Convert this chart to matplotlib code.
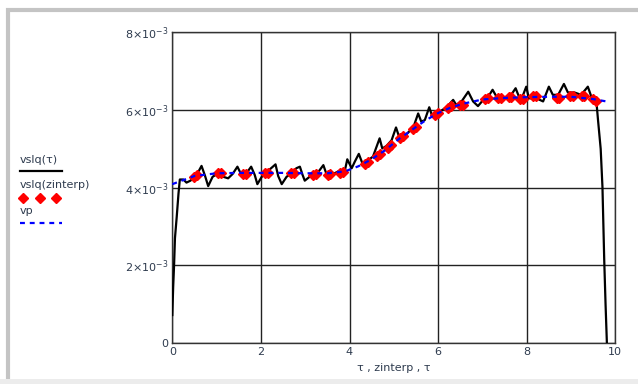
import numpy as np
import matplotlib
matplotlib.use("Agg")
import matplotlib.pyplot as plt
from matplotlib.lines import Line2D
from matplotlib.patches import Rectangle

# vslq(tau): measured signal (values in units of 1e-3)
tau = [0.0, 0.02, 0.04, 0.06, 0.10, 0.14, 0.17, 0.25, 0.32, 0.41, 0.55, 0.66, 0.74, 0.81,
       0.91, 1.04, 1.15, 1.26, 1.36, 1.47, 1.56, 1.66, 1.78, 1.86, 1.92, 2.02, 2.11, 2.20,
       2.33, 2.39, 2.47, 2.58, 2.69, 2.80, 2.88, 2.94, 2.99, 3.10, 3.26, 3.41, 3.48, 3.63,
       3.78, 3.89, 3.95, 4.05, 4.12, 4.21, 4.29, 4.38, 4.53, 4.68, 4.74, 4.83, 4.95, 5.05,
       5.12, 5.29, 5.44, 5.55, 5.62, 5.70, 5.80, 5.87, 6.04, 6.19, 6.34, 6.41, 6.53, 6.68,
       6.79, 6.90, 7.02, 7.13, 7.23, 7.32, 7.47, 7.62, 7.75, 7.84, 7.92, 7.99, 8.05, 8.22,
       8.37, 8.50, 8.59, 8.71, 8.84, 8.93, 9.08, 9.23, 9.38, 9.46, 9.57, 9.61, 9.67, 9.71,
       9.75, 9.78, 9.81]
vslq = [0.72, 1.45, 2.00, 2.70, 3.25, 3.85, 4.21, 4.21, 4.13, 4.18, 4.33, 4.56, 4.30, 4.04,
        4.28, 4.37, 4.28, 4.24, 4.35, 4.54, 4.33, 4.35, 4.54, 4.33, 4.09, 4.28, 4.41, 4.47,
        4.60, 4.30, 4.09, 4.28, 4.37, 4.50, 4.54, 4.33, 4.18, 4.28, 4.35, 4.58, 4.35, 4.35,
        4.44, 4.41, 4.73, 4.50, 4.67, 4.87, 4.63, 4.67, 4.80, 5.27, 5.01, 5.07, 5.22, 5.55,
        5.31, 5.38, 5.55, 5.91, 5.70, 5.74, 6.07, 5.83, 5.96, 6.07, 6.26, 6.13, 6.22, 6.47,
        6.22, 6.10, 6.26, 6.34, 6.52, 6.34, 6.33, 6.34, 6.56, 6.30, 6.39, 6.60, 6.30, 6.30,
        6.22, 6.60, 6.39, 6.39, 6.67, 6.45, 6.45, 6.39, 6.60, 6.34, 6.26, 5.74, 5.00, 4.02,
        2.14, 1.00, 0.0]

# vslq(zinterp): interpolation points
zinterp = [0.48, 0.55, 1.03, 1.10, 1.60, 1.67, 2.10, 2.16, 2.67, 2.74, 3.18, 3.25, 3.51, 3.57,
           3.79, 3.85, 4.34, 4.41, 4.62, 4.68, 4.88, 4.94, 5.14, 5.20, 5.44, 5.50, 5.93, 5.99,
           6.23, 6.29, 6.50, 6.56, 7.06, 7.12, 7.36, 7.42, 7.59, 7.65, 7.85, 7.91, 8.15, 8.21,
           8.68, 8.74, 8.98, 9.04, 9.24, 9.30, 9.50, 9.56]
vslq_z = [4.28, 4.32, 4.38, 4.39, 4.34, 4.34, 4.39, 4.39, 4.37, 4.37, 4.32, 4.34, 4.33, 4.34,
          4.38, 4.40, 4.60, 4.66, 4.81, 4.86, 5.03, 5.09, 5.28, 5.34, 5.50, 5.56, 5.87, 5.91,
          6.05, 6.09, 6.12, 6.14, 6.29, 6.30, 6.30, 6.30, 6.33, 6.33, 6.28, 6.29, 6.35, 6.36,
          6.32, 6.32, 6.36, 6.36, 6.36, 6.35, 6.28, 6.24]

# vp: fitted curve
tau_p = [0.0, 0.5, 1.0, 1.5, 2.0, 2.5, 3.0, 3.5, 3.9, 4.2, 4.5, 4.8, 5.1, 5.4, 5.7, 6.0,
         6.3, 6.6, 7.0, 7.5, 8.0, 8.5, 9.0, 9.5, 9.8]
vp = [4.09, 4.30, 4.37, 4.38, 4.38, 4.38, 4.37, 4.37, 4.42, 4.55, 4.73, 4.96, 5.24, 5.48,
      5.72, 5.92, 6.07, 6.17, 6.27, 6.31, 6.33, 6.34, 6.34, 6.28, 6.22]

x_ticks = [0, 2, 4, 6, 8, 10]
y_ticks = [0, 2e-3, 4e-3, 6e-3, 8e-3]
y_labels = ["0", r"$2{\times}10^{-3}$", r"$4{\times}10^{-3}$", r"$6{\times}10^{-3}$", r"$8{\times}10^{-3}$"]

plt.rcParams["mathtext.fontset"] = "dejavusans"
txt_color = "#2e3b4e"

fig = plt.figure(figsize=(6.38, 3.84), dpi=100)
ax = fig.add_axes([172.3 / 638, 1 - 343 / 384, (615.3 - 172.3) / 638, (343 - 32.3) / 384])

s = 1e-3
ax.plot(tau, np.array(vslq) * s, color="black", lw=1.6, zorder=3)
ax.plot(zinterp, np.array(vslq_z) * s, ls="none", marker="D", ms=5.5, color="red",
        mec="red", zorder=4)
ax.plot(tau_p, np.array(vp) * s, color="#0000ff", lw=1.6, ls=(0, (2.2, 2.2)), zorder=5)

ax.set_xlim(0, 10)
ax.set_ylim(0, 8e-3)
ax.set_xticks(x_ticks)
ax.set_yticks(y_ticks)
ax.set_yticklabels(y_labels)
ax.tick_params(length=0, labelsize=8, colors=txt_color, pad=3)
ax.grid(True, color="#222222", lw=1.0)
for sp in ax.spines.values():
    sp.set_color("#333333")
    sp.set_linewidth(1.0)
ax.set_xlabel("\u03c4 , zinterp , \u03c4", fontsize=8, color=txt_color, labelpad=4)

# legend block on the left
fig.text(20 / 638, 1 - 160 / 384, "vslq(\u03c4)", fontsize=8, color=txt_color, va="center")
fig.add_artist(Line2D([20 / 638, 62 / 638], [1 - 171 / 384] * 2, color="black", lw=1.6))
fig.text(20 / 638, 1 - 185 / 384, "vslq(zinterp)", fontsize=8, color=txt_color, va="center")
fig.add_artist(Line2D([23 / 638, 40 / 638, 56 / 638], [1 - 198 / 384] * 3, ls="none",
                      marker="D", ms=5.5, color="red"))
fig.text(20 / 638, 1 - 211 / 384, "vp", fontsize=8, color=txt_color, va="center")
fig.add_artist(Line2D([20 / 638, 62 / 638], [1 - 223 / 384] * 2, color="#0000ff", lw=1.6,
                      ls=(0, (2.2, 2.2))))

# grey frame of the worksheet region
fig.add_artist(Rectangle((8 / 638, -0.1), 1.2, 1 - 10 / 384 + 0.1, transform=fig.transFigure,
                         fill=False, ec="#c4c4c4", lw=3))
fig.add_artist(Rectangle((0, 0), 1, 5 / 384, transform=fig.transFigure, color="#ececec", lw=0))

fig.savefig("out.png", dpi=100)
